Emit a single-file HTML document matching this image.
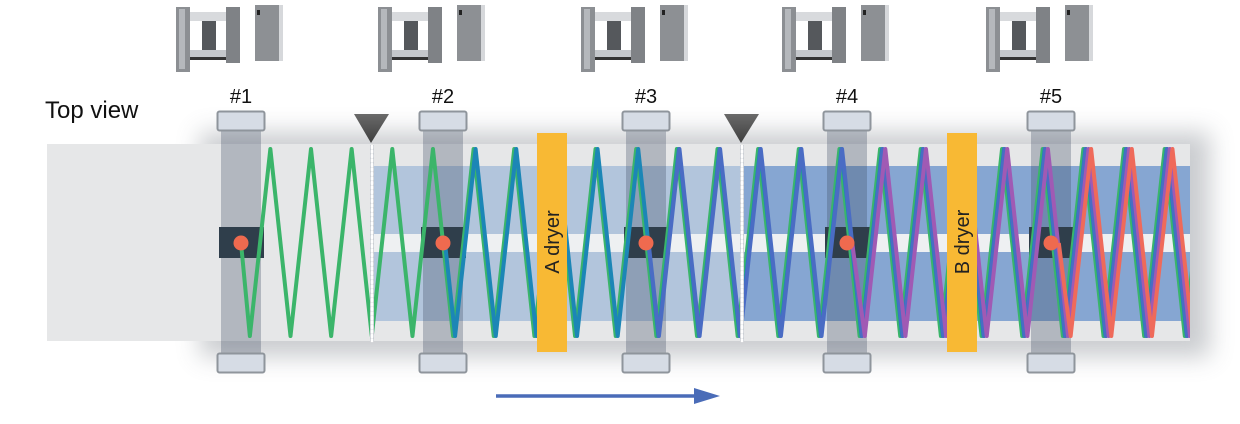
<!DOCTYPE html>
<html><head><meta charset="utf-8"><style>
html,body{margin:0;padding:0;background:#fff;width:1240px;height:424px;overflow:hidden}
svg{display:block}
text{font-family:"Liberation Sans",sans-serif}
</style></head><body>
<svg id="s" width="1240" height="424" xmlns="http://www.w3.org/2000/svg">
<defs>
<filter id="blur" x="-10%" y="-30%" width="120%" height="160%"><feGaussianBlur stdDeviation="12"/></filter>
<clipPath id="webclip"><rect x="47" y="144" width="1143" height="197"/></clipPath>
<linearGradient id="tri" x1="0" y1="0" x2="0" y2="1"><stop offset="0" stop-color="#6a6a6a"/><stop offset="1" stop-color="#3e3e3e"/></linearGradient>
</defs>
<rect x="200" y="132" width="1010" height="225" fill="#8a8f96" opacity="0.45" filter="url(#blur)"/>
<rect x="47" y="144" width="1143" height="197" fill="#e6e7e8"/>
<rect x="372" y="166" width="370" height="68" fill="#b2c5dc"/>
<rect x="372" y="252" width="370" height="69" fill="#b2c5dc"/>
<rect x="742" y="166" width="448" height="68" fill="#86a6d2"/>
<rect x="742" y="252" width="448" height="69" fill="#86a6d2"/>
<rect x="372" y="234" width="818" height="18" fill="#eef0f2"/>
<g id="stations"></g>
<g id="lines" clip-path="url(#webclip)"></g>
<g id="dots"></g>
<rect x="537" y="133" width="30" height="219" fill="#f8b934"/>
<text transform="translate(559,242) rotate(-90)" text-anchor="middle" font-size="20" fill="#222">A dryer</text>
<rect x="947" y="133" width="30" height="219" fill="#f8b934"/>
<text transform="translate(969,242) rotate(-90)" text-anchor="middle" font-size="20" fill="#222">B dryer</text>
<line x1="372" y1="145" x2="372" y2="341" stroke="#c8ccd2" stroke-width="4"/>
<line x1="372" y1="146" x2="372" y2="341" stroke="#fff" stroke-width="2.5" stroke-dasharray="2 2.5" stroke-linecap="round"/>
<polygon points="354,114 389,114 371,143" fill="url(#tri)"/>
<line x1="742" y1="145" x2="742" y2="341" stroke="#c8ccd2" stroke-width="4"/>
<line x1="742" y1="146" x2="742" y2="341" stroke="#fff" stroke-width="2.5" stroke-dasharray="2 2.5" stroke-linecap="round"/>
<polygon points="724,114 759,114 741,143" fill="url(#tri)"/>
<line x1="496" y1="396" x2="698" y2="396" stroke="#4a6cb8" stroke-width="3.5"/>
<polygon points="694,388 720,396 694,404" fill="#4a6cb8"/>
<text x="45" y="118" font-size="24" fill="#111">Top view</text>
<g id="topg"></g>
</svg>
<script>
(function(){
var NS="http://www.w3.org/2000/svg";
function el(p,t,a){var e=document.createElementNS(NS,t);for(var k in a)e.setAttribute(k,a[k]);document.getElementById(p).appendChild(e);return e;}
var xs=[241,443,646,847,1051];
xs.forEach(function(x,i){
  el("stations","rect",{x:x-20,y:128,width:40,height:228,fill:"#3c4a60","fill-opacity":"0.3"});
  el("stations","rect",{x:x-22,y:227,width:45,height:31,fill:"#2f3e4b"});
  el("stations","rect",{x:x-23.5,y:111.5,width:47,height:19,rx:2,fill:"#d6dce5",stroke:"#8f959c","stroke-width":"2"});
  el("stations","rect",{x:x-23.5,y:353.5,width:47,height:19,rx:2,fill:"#d6dce5",stroke:"#8f959c","stroke-width":"2"});
  el("dots","circle",{cx:x,cy:243,r:7.5,fill:"#ef6a4f"});
  var t=el("topg","text",{x:x,y:103,"text-anchor":"middle","font-size":"20",fill:"#111"});t.textContent="#"+(i+1);
  var fx=x-65;
  el("topg","rect",{x:fx,y:7,width:14,height:65,fill:"#8c8f93"});
  el("topg","rect",{x:fx+3,y:9,width:6,height:60,fill:"#b5b8bc"});
  el("topg","rect",{x:fx+50,y:7,width:14,height:56,fill:"#7f8286"});
  el("topg","rect",{x:fx+14,y:12,width:36,height:9,fill:"#d8dadd"});
  el("topg","rect",{x:fx+14,y:50,width:36,height:10,fill:"#c4c7cb"});
  el("topg","rect",{x:fx+14,y:57,width:36,height:3,fill:"#333"});
  el("topg","rect",{x:fx+26,y:21,width:14,height:29,fill:"#55585c"});
  el("topg","rect",{x:fx+79,y:5,width:24,height:56,fill:"#8d9094"});
  el("topg","rect",{x:fx+103,y:5,width:4,height:56,fill:"#d6d8db"});
  el("topg","rect",{x:fx+81,y:10,width:3,height:5,fill:"#222"});
});
var P=40.65, T0=270, yT=149, yB=336;
var cols=[["#3bb56a",0],["#1c86b6",2],["#4a6cc4",2.6],["#a05ab4",5.2],["#ef6a5a",7.8]];
cols.forEach(function(c,i){
  var sx=xs[i], dx=c[1];
  var tp=T0-P;
  while(tp+20.5*0.5 < sx-15) tp+=P;
  var pts=[(sx+dx)+",243"];
  var x=tp+20.5;
  while(x<1260){pts.push((x+dx)+","+yB);pts.push((x+20.5+dx)+","+yT);x+=P;}
  el("lines","polyline",{points:pts.join(" "),fill:"none",stroke:c[0],"stroke-width":"4","stroke-linejoin":"round"});
});
})();
</script>
</body></html>
